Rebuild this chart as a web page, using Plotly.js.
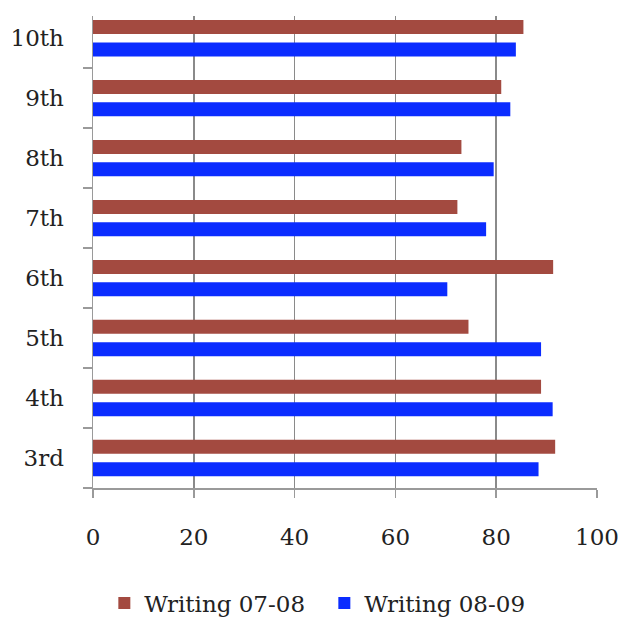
<!DOCTYPE html>
<html>
<head>
<meta charset="utf-8">
<script src="https://cdn.plot.ly/plotly-3.0.1.min.js"></script>
<style>html,body{margin:0;padding:0;background:#fff;}#chart{width:631px;height:621px;}</style>
</head>
<body>
<div id="chart"></div>
<script>
const grades = ['3rd', '4th', '5th', '6th', '7th', '8th', '9th', '10th'];
const writing0708 = [91.7, 88.9, 74.5, 91.3, 72.3, 73.1, 81.0, 85.4];
const writing0809 = [88.4, 91.2, 88.9, 70.3, 78.0, 79.5, 82.8, 83.9];
const xTicks = [0, 20, 40, 60, 80, 100];

const serif = 'DejaVu Serif, Liberation Serif, serif';

const traces = [
  {
    type: 'bar', orientation: 'h', name: 'Writing 08-09',
    y: grades, x: writing0809,
    marker: {color: '#0b2cff'}, legendrank: 2
  },
  {
    type: 'bar', orientation: 'h', name: 'Writing 07-08',
    y: grades, x: writing0708,
    marker: {color: '#a34a40'}, legendrank: 1
  }
];

const layout = {
  width: 631, height: 621,
  margin: {l: 93, r: 34, t: 16, b: 133, autoexpand: false},
  paper_bgcolor: '#fff', plot_bgcolor: '#fff',
  barmode: 'group', bargap: 0.253, bargroupgap: 0.375,
  font: {family: serif, size: 23, color: '#222'},
  showlegend: true,
  legend: {
    orientation: 'h', x: 0.459, xanchor: 'center', y: -0.198, yanchor: 'top',
    font: {family: serif, size: 23, color: '#222'},
    itemwidth: 30, entrywidth: 175, entrywidthmode: 'pixels'
  },
  xaxis: {
    range: [0, 100], tickvals: xTicks, ticktext: xTicks.map(String),
    showgrid: true, gridcolor: '#8a8a8a', gridwidth: 1.5,
    zeroline: false, showline: true, linecolor: '#9a9a9a', linewidth: 1.5,
    ticks: 'outside', ticklen: 8, tickcolor: '#9a9a9a', tickwidth: 1.5,
    ticklabelstandoff: 20, automargin: false,
    tickfont: {family: serif, size: 23, color: '#222'},
    fixedrange: true
  },
  yaxis: {
    type: 'category', categoryorder: 'array', categoryarray: grades,
    range: [-0.5, 7.37],
    showgrid: false, zeroline: false,
    showline: true, linecolor: '#9a9a9a', linewidth: 1.5,
    ticks: 'outside', tickson: 'boundaries', ticklen: 9, tickcolor: '#9a9a9a', tickwidth: 1.5,
    ticklabelstandoff: 23, automargin: false,
    tickfont: {family: serif, size: 23, color: '#222'},
    fixedrange: true
  }
};

Plotly.newPlot('chart', traces, layout, {staticPlot: true, displayModeBar: false});
</script>
</body>
</html>
